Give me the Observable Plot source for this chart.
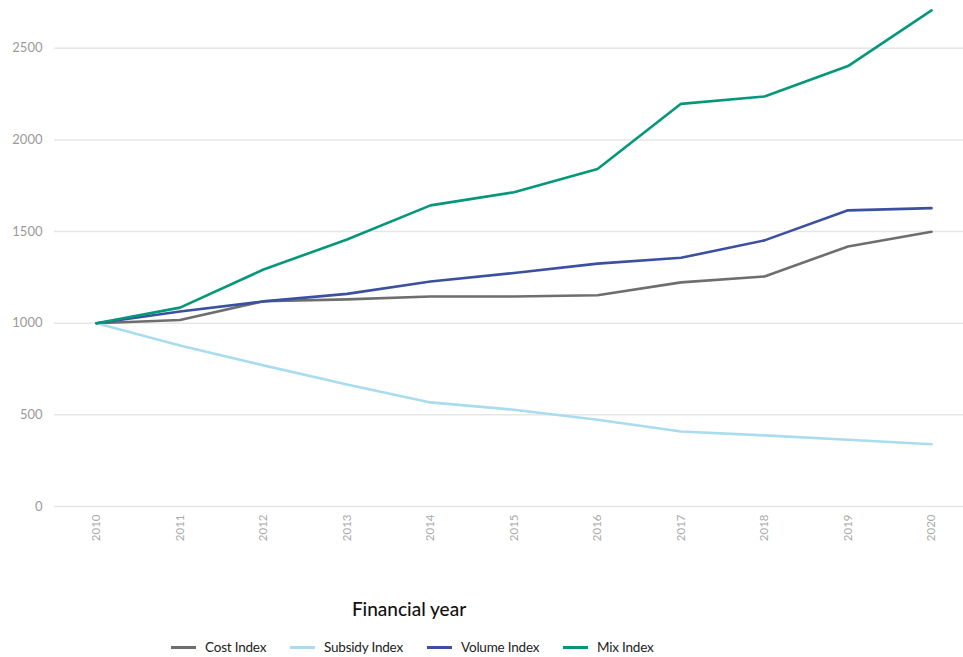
<!DOCTYPE html>
<html>
<head>
<meta charset="utf-8">
<script src="https://cdn.jsdelivr.net/npm/d3@7"></script>
<script src="https://cdn.jsdelivr.net/npm/@observablehq/plot@0.6"></script>
<style>
  body { margin: 0; background: #fff; font-family: Lato, "Open Sans", sans-serif; }
  #wrap { width: 963px; position: relative; }
  #title { width: 818px; text-align: center; margin-top: 37px; font-size: 19px; font-weight: 500; color: #111; line-height: 24px; font-family: Lato, sans-serif; }
  #legend { display: flex; margin-top: 17px; padding-left: 171px; height: 18px; align-items: center; font-size: 13.5px; color: #222; font-family: Lato, sans-serif; letter-spacing: -0.2px; }
  .item { display: flex; align-items: center; }
  .sw { width: 25px; height: 3px; margin-right: 9px; }
</style>
</head>
<body>
<div id="wrap">
  <div id="chart"></div>
  <div id="title">Financial year</div>
  <div id="legend"></div>
</div>
<script>
const years = [2010, 2011, 2012, 2013, 2014, 2015, 2016, 2017, 2018, 2019, 2020];
const costIndex    = [1000, 1018, 1120, 1130, 1146, 1146, 1153, 1223, 1255, 1419, 1499];
const subsidyIndex = [1000, 879, 770, 666, 568, 528, 473, 409, 388, 364, 340];
const volumeIndex  = [1000, 1064, 1119, 1160, 1228, 1274, 1325, 1357, 1452, 1616, 1628];
const mixIndex     = [1000, 1085, 1293, 1457, 1643, 1715, 1841, 2197, 2237, 2403, 2707];
const seriesNames  = ["Cost Index", "Subsidy Index", "Volume Index", "Mix Index"];
const seriesColors = ["#6e6e6e", "#a9dcee", "#3c50a0", "#05977a"];
const yTicks = [0, 500, 1000, 1500, 2000, 2500];

const seriesValues = [costIndex, subsidyIndex, volumeIndex, mixIndex];
const data = [];
seriesNames.forEach((name, i) => {
  years.forEach((yr, j) => data.push({series: name, year: yr, value: seriesValues[i][j]}));
});

const chart = Plot.plot({
  width: 963,
  height: 560,
  marginLeft: 54,
  marginRight: 0,
  marginTop: 2,
  marginBottom: 54,
  style: { fontFamily: "Lato, sans-serif", background: "#fff" },
  x: { type: "linear", domain: [2010, 2020], insetLeft: 42, insetRight: 32 },
  y: { domain: [0, 2750] },
  color: { domain: seriesNames, range: seriesColors },
  marks: [
    Plot.ruleY(yTicks, { stroke: "#e6e6e6", strokeWidth: 1.5 }),
    Plot.axisY({ ticks: yTicks, tickFormat: d => String(d), tickSize: 0, tickPadding: 12, label: null, fill: "#9a9a9a", fontSize: 13 }),
    Plot.axisX({ ticks: years, tickFormat: d => String(d), tickSize: 0, tickPadding: 8, tickRotate: -90, label: null, fill: "#aaaaaa", fontSize: 11.5 }),
    Plot.line(data, { x: "year", y: "value", z: "series", stroke: "series", strokeWidth: 2.6, strokeLinejoin: "round" })
  ]
});
document.getElementById("chart").appendChild(chart);

const itemWidths = [119, 137, 136, null];
const legend = document.getElementById("legend");
seriesNames.forEach((name, i) => {
  const item = document.createElement("div");
  item.className = "item";
  if (itemWidths[i]) item.style.width = itemWidths[i] + "px";
  const sw = document.createElement("span");
  sw.className = "sw";
  sw.style.background = seriesColors[i];
  const t = document.createElement("span");
  t.textContent = name;
  item.appendChild(sw);
  item.appendChild(t);
  legend.appendChild(item);
});
</script>
</body>
</html>
